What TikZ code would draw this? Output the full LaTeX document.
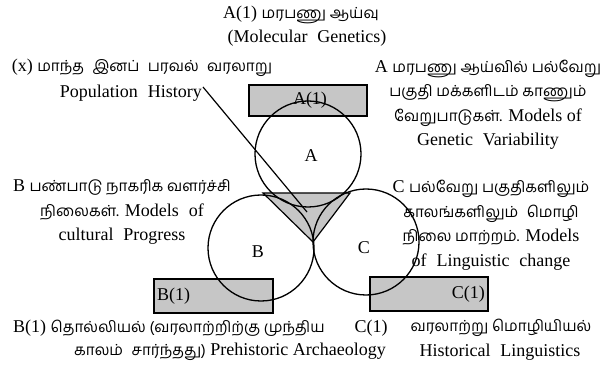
\documentclass[tikz,border=0pt]{standalone}
\usepackage{fontspec}
\setmainfont{Liberation Serif}
\newfontfamily\ta[Script=Tamil,Scale=0.85]{Hind Madurai}
\newcommand\gap{\hspace{0.55em}}
\begin{document}
\begin{tikzpicture}[x=1pt,y=-1pt,
  txt/.style={inner sep=0pt,font=\fontsize{18}{24.5}\selectfont,align=center},
  graybox/.style={draw,line width=1.8pt,fill=gray!45},
  ring/.style={draw,line width=1.3pt},
  conn/.style={draw,line width=1.2pt}]
\useasboundingbox (0,0) rectangle (603,374);
% boxes
\node[graybox,minimum width=118pt,minimum height=31pt,inner sep=0pt] (a1box) at (308,100.5) {};
\node[graybox,minimum width=119pt,minimum height=34pt,inner sep=0pt] (b1box) at (213.5,296) {};
\node[graybox,minimum width=118pt,minimum height=34pt,inner sep=0pt] (c1box) at (429,294) {};
\node[txt] (a1lab) at (310,100) {A(1)};
\node[txt,anchor=west] (b1lab) at (157,296) {B(1)};
\node[txt,anchor=east] (c1lab) at (485,294) {C(1)};
% shaded triangle
\coordinate (t1) at (263,193);
\coordinate (t2) at (350,193);
\coordinate (t3) at (313,242);
\fill[gray!45] (t1) -- (t2) -- (t3) -- cycle;
\draw[conn] (t1) -- (t2) -- (t3) -- cycle;
% circles
\node[ring,circle,minimum size=106pt,inner sep=0pt] (A) at (308,154) {};
\node[ring,circle,minimum size=106pt,inner sep=0pt] (B) at (261,248) {};
\node[ring,circle,minimum size=106pt,inner sep=0pt] (C) at (366,242) {};
\node[txt] (Alab) at (311,156) {A};
\node[txt] (Blab) at (258,252) {B};
\node[txt] (Clab) at (364,248) {C};
% texts
\node[txt] (t1a) at (301,15) {A(1) {\ta மரபணு ஆய்வு}};
\node[txt] (t1b) at (307,38) {(Molecular\gap Genetics)};
\node[txt] (xlab) at (142,68) {(x) {\ta மாந்த\gap இனப்\gap பரவல்\gap வரலாறு}};
\node[txt,anchor=east] (pop) at (202,93) {Population\gap History};
\node[txt] (atext) at (488,104.5) {A {\ta மரபணு ஆய்வில் பல்வேறு}\\{\ta பகுதி மக்களிடம் காணும்}\\{\ta வேறுபாடுகள்.} Models of\\Genetic\gap Variability};
\node[txt] (btext) at (122,212) {B {\ta பண்பாடு நாகரிக வளர்ச்சி}\\{\ta நிலைகள்.} Models\gap of\\cultural\gap Progress};
\node[txt] (ctext) at (491,225) {C {\ta பல்வேறு பகுதிகளிலும்}\\{\ta காலங்களிலும்\gap மொழி}\\{\ta நிலை மாற்றம்.} Models\\of\gap Linguistic\gap change};
\node[txt,anchor=west] (b1ta) at (13,328) {B(1) {\ta தொல்லியல் (வரலாற்றிற்கு முந்திய}};
\node[txt,anchor=east] (b1tb) at (386,352) {{\ta காலம்\gap சார்ந்தது)} Prehistoric Archaeology};
\node[txt] (c1ta) at (371,328) {C(1)};
\node[txt] (c1tb) at (501,328) {{\ta வரலாற்று மொழியியல்}};
\node[txt] (c1tc) at (500,352) {Historical\gap Linguistics};
% connector
\coordinate (ps) at (203,87);
\coordinate (pe) at (307,212);
\draw[conn] (ps) -- (pe);
\end{tikzpicture}
\end{document}
